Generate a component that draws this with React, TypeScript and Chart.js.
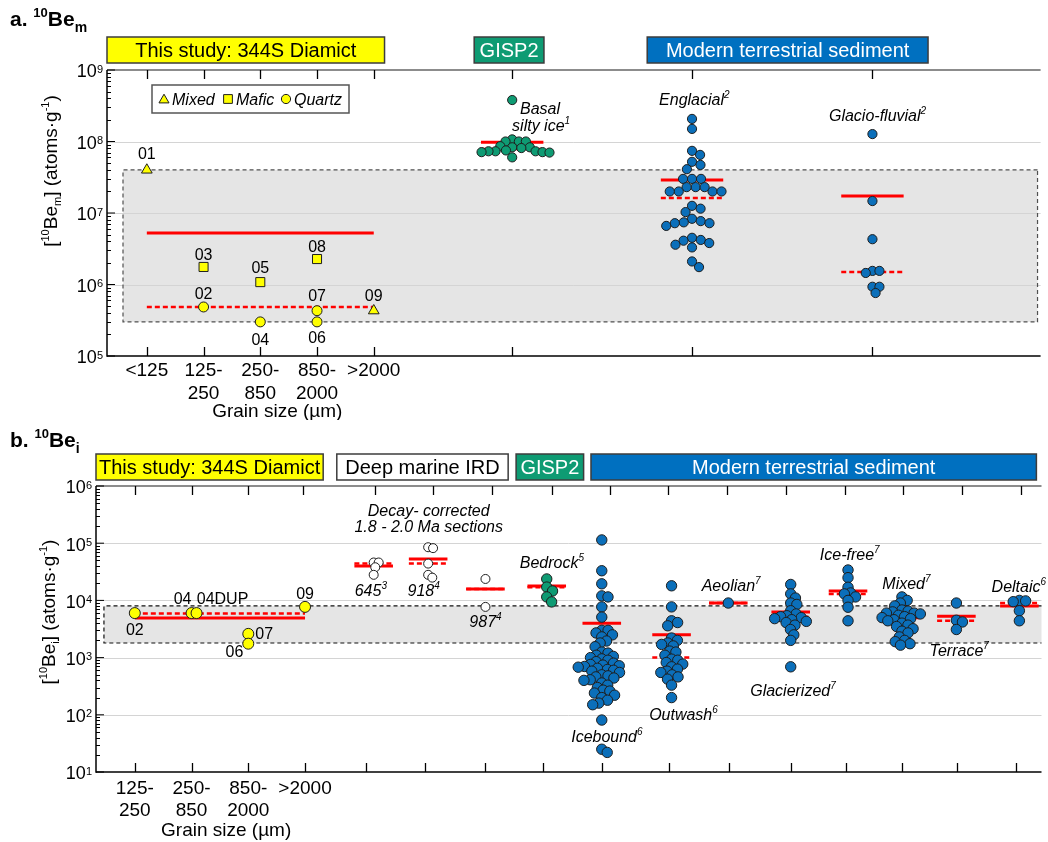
import React, { useEffect, useRef } from 'react';
import { Chart, registerables } from 'chart.js';

Chart.register(...registerables);

const FONT = '"Liberation Sans", Arial, Helvetica, sans-serif';
const RED = '#ff0000';
const YELLOW = '#ffff00';
const GREEN = '#0e9b73';
const BLUE = '#0b6fba';
const BOX_BLUE = '#0070c0';
const BAND_FILL = '#e5e5e5';
const GRID = '#d4d4d4';
const EDGE = '#1e1e1e';

// ================= Panel a : 10Be_m =================
const A_GRAIN_LABELS = [['<125'], ['125-', '250'], ['250-', '850'], ['850-', '2000'], ['>2000']];
const A_GRAIN_SLOTS = [1, 2, 3, 4, 5];
const A_STUDY_IDS = ['01', '02', '03', '04', '05', '06', '07', '08', '09'];
const A_STUDY_MINERAL = ['Mixed', 'Quartz', 'Mafic', 'Quartz', 'Mafic', 'Quartz', 'Quartz', 'Mafic', 'Mixed'];
const A_STUDY_GRAIN = [0, 1, 1, 2, 2, 3, 3, 3, 4];
const A_STUDY_VALUES = [4.0e7, 4.85e5, 1.76e6, 3.0e5, 1.08e6, 3.0e5, 4.3e5, 2.27e6, 4.3e5];
const A_STUDY_MEAN = 5.25e6;
const A_STUDY_MEDIAN = 4.85e5;

const A_GROUP_SLOTS = [7.44, 10.61, 13.79];
const A_GISP2_BASAL = [3.8e8, 1.07e8, 1.0e8, 1.0e8, 1.0e8, 8.6e7, 8.3e7, 8.3e7, 8.1e7, 7.5e7, 7.3e7, 7.3e7, 7.3e7, 7.1e7, 7.1e7, 7.0e7, 6.0e7];
const A_ENGLACIAL = [2.07e8, 1.5e8, 7.4e7, 6.5e7, 5.2e7, 4.7e7, 4.1e7, 3.0e7, 3.0e7, 3.0e7, 2.3e7, 2.3e7, 2.3e7, 2.0e7, 2.0e7, 2.0e7, 2.0e7, 1.26e7, 1.15e7, 1.03e7, 8.3e6, 7.7e6, 7.4e6, 7.2e6, 7.2e6, 6.6e6, 4.5e6, 4.2e6, 4.1e6, 3.8e6, 3.6e6, 3.3e6, 2.1e6, 1.75e6];
const A_GLACIOFLUVIAL = [1.27e8, 1.47e7, 4.3e6, 1.55e6, 1.55e6, 1.45e6, 9.3e5, 9.3e5, 7.6e5];
const A_GROUP_MEANS = [9.8e7, 2.9e7, 1.73e7];
const A_GROUP_MEDIANS = [7.85e7, 1.62e7, 1.5e6];
const A_TICK_SLOTS = [1, 2, 3, 4, 5, 7.44, 10.61, 13.79];
const A_Y_DECADES = [5, 6, 7, 8, 9];
const A_REFERENCE_BAND = [3.0e5, 4.0e7];

// ================= Panel b : 10Be_i =================
const B_GRAIN_LABELS = [['125-', '250'], ['250-', '850'], ['850-', '2000'], ['>2000']];
const B_GRAIN_SLOTS = [1, 2, 3, 4];
const B_STUDY_IDS = ['02', '04', '04DUP', '07', '06', '09'];
const B_STUDY_GRAIN = [0, 1, 1, 2, 2, 3];
const B_STUDY_VALUES = [6.0e3, 6.0e3, 6.0e3, 2.6e3, 1.75e3, 7.7e3];
const B_STUDY_MEAN = 4.9e3;
const B_STUDY_MEDIAN = 5.9e3;

const B_GROUP_NAMES = ['645', '918', '987', 'Bedrock', 'Icebound', 'Outwash', 'Aeolian', 'Glacierized', 'Ice-free', 'Mixed', 'Terrace', 'Deltaic'];
const B_GROUP_REFS = ['3', '4', '4', '5', '6', '6', '7', '7', '7', '7', '7', '6'];
const B_GROUP_SOURCE = ['IRD', 'IRD', 'IRD', 'GISP2', 'Modern', 'Modern', 'Modern', 'Modern', 'Modern', 'Modern', 'Modern', 'Modern'];
const B_GROUP_SLOTS = [5.21, 6.17, 7.18, 8.26, 9.23, 10.46, 11.46, 12.56, 13.57, 14.52, 15.48, 16.59];
const B_SITE_645 = [4.6e4, 4.6e4, 3.8e4, 2.8e4];
const B_SITE_918 = [8.5e4, 8.2e4, 4.4e4, 2.8e4, 2.5e4];
const B_SITE_987 = [2.37e4, 7.7e3];
const B_BEDROCK = [2.37e4, 1.71e4, 1.46e4, 1.15e4, 9.4e3];
const B_ICEBOUND = [1.14e5, 3.3e4, 1.95e4, 1.2e4, 1.15e4, 7.7e3, 5.1e3, 3.0e3, 3.0e3, 2.7e3, 2.5e3, 2.3e3, 1.95e3, 1.8e3, 1.55e3, 1.25e3, 1.2e3, 1.1e3, 1.05e3, 1.0e3, 950, 900, 850, 800, 760, 740, 720, 700, 680, 650, 620, 600, 580, 550, 500, 480, 460, 440, 410, 400, 360, 330, 300, 270, 260, 240, 220, 200, 180, 160, 150, 81, 25, 22];
const B_OUTWASH = [1.8e4, 7.7e3, 4.4e3, 4.1e3, 3.6e3, 2.2e3, 2.0e3, 1.8e3, 1.7e3, 1.6e3, 1.3e3, 1.25e3, 1.1e3, 940, 900, 820, 770, 690, 630, 580, 550, 500, 460, 420, 330, 200];
const B_AEOLIAN = [9.0e3];
const B_GLACIERIZED = [1.9e4, 1.3e4, 1.1e4, 9.0e3, 8.5e3, 6.6e3, 5.8e3, 5.4e3, 5.2e3, 5.0e3, 4.8e3, 4.6e3, 4.3e3, 4.1e3, 3.7e3, 3.1e3, 2.5e3, 2.0e3, 690];
const B_ICE_FREE = [3.4e4, 2.5e4, 1.7e4, 1.35e4, 1.3e4, 1.15e4, 1.0e4, 7.6e3, 4.4e3];
const B_MIXED = [1.15e4, 1.0e4, 9.0e3, 8.0e3, 6.8e3, 6.5e3, 6.3e3, 6.0e3, 6.0e3, 5.8e3, 5.5e3, 5.2e3, 5.0e3, 4.8e3, 4.6e3, 4.4e3, 4.0e3, 3.7e3, 3.5e3, 3.2e3, 2.9e3, 2.7e3, 2.3e3, 2.0e3, 1.9e3, 1.75e3, 1.65e3];
const B_TERRACE = [9.0e3, 4.5e3, 4.2e3, 3.1e3];
const B_DELTAIC = [1.0e4, 9.8e3, 9.5e3, 6.6e3, 4.4e3];
const B_GROUP_VALUES = [B_SITE_645, B_SITE_918, B_SITE_987, B_BEDROCK, B_ICEBOUND, B_OUTWASH, B_AEOLIAN, B_GLACIERIZED, B_ICE_FREE, B_MIXED, B_TERRACE, B_DELTAIC];
const B_GROUP_MEANS = [4.0e4, 5.3e4, 1.58e4, 1.79e4, 4.0e3, 2.5e3, 9.0e3, 6.3e3, 1.46e4, 5.0e3, 5.3e3, 8.0e3];
const B_GROUP_MEDIANS = [4.4e4, 4.4e4, 1.58e4, 1.7e4, 710, 1.0e3, 9.0e3, 5.2e3, 1.3e4, 4.9e3, 4.4e3, 9.0e3];
const B_TOP_TICK_SLOTS = [1, 2, 3, 3.96, 5.23, 6.26, 7.3, 8.35, 9.37, 10.4, 11.44, 12.47, 13.51, 14.54, 15.58, 16.61];
const B_BOTTOM_TICK_SLOTS = [1, 2, 3, 4, 5.07, 6.11, 7.18, 8.19, 9.23, 10.42, 11.47, 12.56, 13.54, 14.53, 15.49, 16.53];
const B_Y_DECADES = [1, 2, 3, 4, 5, 6];
const B_REFERENCE_BAND = [1.8e3, 8.0e3];

// ================= layout (positions of annotations) =================
const A_ID_OFFSETS = [
  { dx: 0, dy: -17, align: 'center' }, { dx: 0, dy: -14, align: 'center' }, { dx: 0, dy: -13, align: 'center' },
  { dx: 0, dy: 17, align: 'center' }, { dx: 0, dy: -15, align: 'center' }, { dx: 0, dy: 15, align: 'center' },
  { dx: 0, dy: -16, align: 'center' }, { dx: 0, dy: -13, align: 'center' }, { dx: 0, dy: -16, align: 'center' },
];
const B_ID_OFFSETS = [
  { dx: 0, dy: 16, align: 'center' }, { dx: -9, dy: -15, align: 'center' }, { dx: 26, dy: -15, align: 'center' },
  { dx: 7, dy: -1, align: 'left' }, { dx: -5, dy: 8, align: 'right' }, { dx: 0, dy: -14, align: 'center' },
];
const A_SWARM_SPACING = [7, 9, 7];
const A_LABEL_ANCHORS = [
  { x: 7.93, v: 2.94e8, name: 'Basal', sup: '' },
  { x: 7.95, v: 1.7e8, name: 'silty ice', sup: '1' },
  { x: 10.65, v: 3.93e8, name: 'Englacial', sup: '2' },
  { x: 13.88, v: 2.35e8, name: 'Glacio-fluvial', sup: '2' },
];
const B_LABEL_ANCHORS = [
  [5.16, 1.52e4], [6.09, 1.5e4], [7.18, 4.4e3], [8.35, 4.7e4], [9.32, 43], [10.67, 103],
  [11.51, 1.86e4], [12.6, 270], [13.6, 6.5e4], [14.6, 2.0e4], [15.53, 1.36e3], [16.58, 1.79e4],
];

type Seg = { t: string; s: number; it?: boolean; b?: boolean; dy?: number };

function fontOf(g: Seg) {
  return `${g.it ? 'italic ' : ''}${g.b ? 'bold ' : ''}${g.s}px ${FONT}`;
}

function drawRich(ctx: CanvasRenderingContext2D, segs: Seg[], x: number, baseline: number, align: string, color = '#000') {
  let w = 0;
  for (const g of segs) { ctx.font = fontOf(g); w += ctx.measureText(g.t).width; }
  let cx = align === 'center' ? x - w / 2 : align === 'right' ? x - w : x;
  ctx.fillStyle = color;
  ctx.textAlign = 'left';
  ctx.textBaseline = 'alphabetic';
  for (const g of segs) {
    ctx.font = fontOf(g);
    ctx.fillText(g.t, cx, baseline + (g.dy || 0));
    cx += ctx.measureText(g.t).width;
  }
}

function supLabel(name: string, sup: string, size = 16): Seg[] {
  const out: Seg[] = [{ t: name, s: size, it: true }];
  if (sup) out.push({ t: sup, s: 10, it: true, dy: -7 });
  return out;
}

function drawMarker(ctx: CanvasRenderingContext2D, style: string, x: number, y: number, r: number, fill: string) {
  ctx.beginPath();
  if (style === 'circle') ctx.arc(x, y, r, 0, Math.PI * 2);
  else if (style === 'rect') { const s = r * Math.SQRT1_2; ctx.rect(x - s, y - s, 2 * s, 2 * s); }
  else {
    for (let k = 0; k < 3; k++) {
      const a = (k * 2 * Math.PI) / 3;
      const px = x + Math.sin(a) * r, py = y - Math.cos(a) * r;
      if (k === 0) ctx.moveTo(px, py); else ctx.lineTo(px, py);
    }
    ctx.closePath();
  }
  ctx.fillStyle = fill; ctx.fill();
  ctx.strokeStyle = EDGE; ctx.lineWidth = 1; ctx.stroke();
}

function swarmOffsets(pys: number[], D: number): number[] {
  const placed: { x: number; y: number }[] = [];
  const out: number[] = [];
  for (const py of pys) {
    const iv: [number, number][] = [];
    for (const p of placed) {
      const dy = Math.abs(py - p.y);
      if (dy < D) { const h = Math.sqrt(D * D - dy * dy); iv.push([p.x - h, p.x + h]); }
    }
    const cands = [0];
    for (const [a, b] of iv) cands.push(a, b);
    cands.sort((m, n) => Math.abs(m) - Math.abs(n) || n - m);
    let best = 0;
    for (const c of cands) {
      if (iv.every(([a, b]) => c <= a + 1e-6 || c >= b - 1e-6)) { best = c; break; }
    }
    placed.push({ x: best, y: py });
    out.push(best);
  }
  return out;
}

function pointDs(data: any[], style: string, radius: number, fill: string) {
  return {
    data, showLine: false, pointStyle: style, pointRadius: radius, pointHoverRadius: radius,
    pointBackgroundColor: fill, pointBorderColor: EDGE, pointBorderWidth: 1,
    backgroundColor: fill, borderColor: EDGE, order: 0,
  };
}

function hLineDs(x0: number, x1: number, v: number, dashed: boolean) {
  return {
    data: [{ x: x0, y: v }, { x: x1, y: v }], showLine: true, borderColor: RED,
    borderWidth: dashed ? 2.5 : 3, borderDash: dashed ? [5, 3] : [], pointRadius: 0,
    pointHoverRadius: 0, fill: false, order: dashed ? 1 : 2,
  };
}

function buildA() {
  const datasets: any[] = [];
  const swarms: any[] = [];
  const ids: any[] = [];
  const minerals: [string, string, number][] = [['Mixed', 'triangle', 6.2], ['Mafic', 'rect', 6.4], ['Quartz', 'circle', 5]];
  for (const [m, st, r] of minerals) {
    const idx = A_STUDY_IDS.map((_, i) => i).filter((i) => A_STUDY_MINERAL[i] === m);
    const dsi = datasets.length;
    datasets.push(pointDs(idx.map((i) => ({ x: A_GRAIN_SLOTS[A_STUDY_GRAIN[i]], y: A_STUDY_VALUES[i] })), st, r, YELLOW));
    idx.forEach((i, k) => ids.push({ ds: dsi, pt: k, id: A_STUDY_IDS[i], ...A_ID_OFFSETS[i] }));
  }
  const groups: [number[], string][] = [[A_GISP2_BASAL, GREEN], [A_ENGLACIAL, BLUE], [A_GLACIOFLUVIAL, BLUE]];
  groups.forEach(([vals, col], g) => {
    swarms.push({ ds: datasets.length, center: A_GROUP_SLOTS[g], values: vals, dist: A_SWARM_SPACING[g] });
    datasets.push(pointDs(vals.map((v) => ({ x: A_GROUP_SLOTS[g], y: v })), 'circle', 4.6, col));
  });
  datasets.push(hLineDs(A_GRAIN_SLOTS[0], A_GRAIN_SLOTS[4], A_STUDY_MEAN, false));
  datasets.push(hLineDs(A_GRAIN_SLOTS[0], A_GRAIN_SLOTS[4], A_STUDY_MEDIAN, true));
  A_GROUP_SLOTS.forEach((c, g) => {
    datasets.push(hLineDs(c - 0.55, c + 0.55, A_GROUP_MEANS[g], false));
    datasets.push(hLineDs(c - 0.55, c + 0.55, A_GROUP_MEDIANS[g], true));
  });
  return { datasets, swarms, ids };
}

function buildB() {
  const datasets: any[] = [];
  const swarms: any[] = [];
  const ids: any[] = [];
  B_GRAIN_SLOTS.forEach((slot, gi) => {
    const idx = B_STUDY_IDS.map((_, i) => i).filter((i) => B_STUDY_GRAIN[i] === gi);
    const dsi = datasets.length;
    const vals = idx.map((i) => B_STUDY_VALUES[i]);
    swarms.push({ ds: dsi, center: slot, values: vals, dist: 5 });
    datasets.push(pointDs(vals.map((v) => ({ x: slot, y: v })), 'circle', 5.5, YELLOW));
    idx.forEach((i, k) => ids.push({ ds: dsi, pt: k, id: B_STUDY_IDS[i], ...B_ID_OFFSETS[i] }));
  });
  B_GROUP_VALUES.forEach((vals, g) => {
    const src = B_GROUP_SOURCE[g];
    const fill = src === 'IRD' ? '#ffffff' : src === 'GISP2' ? GREEN : BLUE;
    const r = src === 'IRD' ? 4.5 : 5.2;
    const dist = src === 'IRD' ? 5 : src === 'GISP2' ? 7 : 6.3;
    swarms.push({ ds: datasets.length, center: B_GROUP_SLOTS[g], values: vals, dist });
    datasets.push(pointDs(vals.map((v) => ({ x: B_GROUP_SLOTS[g], y: v })), 'circle', r, fill));
  });
  datasets.push(hLineDs(B_GRAIN_SLOTS[0], B_GRAIN_SLOTS[3], B_STUDY_MEAN, false));
  datasets.push(hLineDs(B_GRAIN_SLOTS[0], B_GRAIN_SLOTS[3], B_STUDY_MEDIAN, true));
  B_GROUP_SLOTS.forEach((c, g) => {
    datasets.push(hLineDs(c - 0.34, c + 0.34, B_GROUP_MEANS[g], false));
    datasets.push(hLineDs(c - 0.34, c + 0.34, B_GROUP_MEDIANS[g], true));
  });
  return { datasets, swarms, ids };
}

const SPEC_A = {
  height: 420,
  padding: { left: 107, right: 3, top: 70, bottom: 64 },
  xRange: [0.298, 16.754],
  yRange: [1e5, 1e9],
  decades: A_Y_DECADES,
  band: A_REFERENCE_BAND,
  bandX: [0.58, 16.7],
  bandRight: true,
  bandStroke: '#505050',
  topTicks: A_TICK_SLOTS,
  bottomTicks: A_TICK_SLOTS,
  title: [{ t: 'a. ', s: 21, b: true }, { t: '10', s: 13, b: true, dy: -9 }, { t: 'Be', s: 21, b: true }, { t: 'm', s: 14, b: true, dy: 6 }] as Seg[],
  titleBaseline: 26,
  headerTop: 37,
  headers: [
    { x0: 0.298, x1: 5.19, text: 'This study: 344S Diamict', fill: YELLOW, color: '#000' },
    { x0: 6.77, x1: 8.0, text: 'GISP2', fill: GREEN, color: '#fff' },
    { x0: 9.82, x1: 14.77, text: 'Modern terrestrial sediment', fill: BOX_BLUE, color: '#fff' },
  ],
  yTitle: [{ t: '[', s: 19 }, { t: '10', s: 11, dy: -8 }, { t: 'Be', s: 19 }, { t: 'm', s: 11, dy: 4 }, { t: '] (atoms·g', s: 19 }, { t: '-1', s: 11, dy: -8 }, { t: ')', s: 19 }] as Seg[],
  yTitleX: 50,
  yTitleY: 171,
  grainLabels: A_GRAIN_LABELS,
  grainSlots: A_GRAIN_SLOTS,
  grainLineDy: [13, 36],
  grainTitleDy: 54,
  grainTitleSlot: 3.3,
  texts: A_LABEL_ANCHORS.map((l) => ({ x: l.x, v: l.v, segs: supLabel(l.name, l.sup) })),
  legend: true,
};

const SPEC_B = {
  height: 422,
  padding: { left: 96, right: 2, top: 66, bottom: 70 },
  xRange: [0.316, 16.98],
  yRange: [1e1, 1e6],
  decades: B_Y_DECADES,
  band: B_REFERENCE_BAND,
  bandX: [0.456, 17.5],
  bandRight: false,
  bandStroke: '#111111',
  topTicks: B_TOP_TICK_SLOTS,
  bottomTicks: B_BOTTOM_TICK_SLOTS,
  title: [{ t: 'b. ', s: 21, b: true }, { t: '10', s: 13, b: true, dy: -9 }, { t: 'Be', s: 21, b: true }, { t: 'i', s: 14, b: true, dy: 6 }] as Seg[],
  titleBaseline: 27,
  headerTop: 34,
  headers: [
    { x0: 0.316, x1: 4.32, text: 'This study: 344S Diamict', fill: YELLOW, color: '#000' },
    { x0: 4.56, x1: 7.58, text: 'Deep marine IRD', fill: '#ffffff', color: '#000' },
    { x0: 7.72, x1: 8.91, text: 'GISP2', fill: GREEN, color: '#fff' },
    { x0: 9.04, x1: 16.89, text: 'Modern terrestrial sediment', fill: BOX_BLUE, color: '#fff' },
  ],
  yTitle: [{ t: '[', s: 19 }, { t: '10', s: 11, dy: -8 }, { t: 'Be', s: 19 }, { t: 'i', s: 11, dy: 4 }, { t: '] (atoms·g', s: 19 }, { t: '-1', s: 11, dy: -8 }, { t: ')', s: 19 }] as Seg[],
  yTitleX: 48,
  yTitleY: 192,
  grainLabels: B_GRAIN_LABELS,
  grainSlots: B_GRAIN_SLOTS,
  grainLineDy: [15, 37],
  grainTitleDy: 57,
  grainTitleSlot: 2.61,
  texts: [
    { x: 6.18, v: 3.8e5, segs: [{ t: 'Decay- corrected', s: 16, it: true }] as Seg[] },
    { x: 6.18, v: 2.0e5, segs: [{ t: '1.8 - 2.0 Ma sections', s: 16, it: true }] as Seg[] },
    ...B_LABEL_ANCHORS.map(([x, v], g) => ({ x, v, segs: supLabel(B_GROUP_NAMES[g], B_GROUP_REFS[g]) })),
  ],
  legend: false,
};

function makeDecor(S: any, ids: any[]) {
  const line = (ctx: CanvasRenderingContext2D, x0: number, y0: number, x1: number, y1: number) => {
    ctx.beginPath(); ctx.moveTo(x0, y0); ctx.lineTo(x1, y1); ctx.stroke();
  };
  return {
    id: 'decor',
    beforeDatasetsDraw(chart: any) {
      const ctx = chart.ctx, ca = chart.chartArea, xs = chart.scales.x, ys = chart.scales.y;
      ctx.save();
      const bx0 = xs.getPixelForValue(S.bandX[0]);
      const bx1 = Math.min(xs.getPixelForValue(S.bandX[1]), ca.right);
      const bt = ys.getPixelForValue(S.band[1]);
      const bb = ys.getPixelForValue(S.band[0]);
      ctx.fillStyle = BAND_FILL;
      ctx.fillRect(bx0, bt, bx1 - bx0, bb - bt);
      ctx.strokeStyle = GRID; ctx.lineWidth = 1;
      for (const d of S.decades.slice(1, -1)) {
        const py = Math.round(ys.getPixelForValue(10 ** d)) + 0.5;
        line(ctx, ca.left, py, ca.right, py);
      }
      ctx.setLineDash([4, 3]); ctx.strokeStyle = S.bandStroke; ctx.lineWidth = 1.2;
      ctx.beginPath();
      ctx.moveTo(bx1, bt); ctx.lineTo(bx0, bt); ctx.lineTo(bx0, bb); ctx.lineTo(bx1, bb);
      if (S.bandRight) ctx.lineTo(bx1, bt);
      ctx.stroke(); ctx.setLineDash([]);
      ctx.restore();
    },
    afterDatasetsDraw(chart: any) {
      const ctx: CanvasRenderingContext2D = chart.ctx, ca = chart.chartArea, xs = chart.scales.x, ys = chart.scales.y;
      ctx.save();
      // axes
      ctx.strokeStyle = '#8c8c8c'; ctx.lineWidth = 2;
      line(ctx, ca.left, ca.top, ca.right, ca.top);
      ctx.strokeStyle = '#000'; ctx.lineWidth = 1.5;
      line(ctx, ca.left, ca.top, ca.left, ca.bottom + 0.75);
      line(ctx, ca.left, ca.bottom, ca.right, ca.bottom);
      // x ticks
      ctx.lineWidth = 1.3;
      for (const t of S.topTicks) { const px = Math.round(xs.getPixelForValue(t)) + 0.5; line(ctx, px, ca.top, px, ca.top + 9); }
      for (const t of S.bottomTicks) { const px = Math.round(xs.getPixelForValue(t)) + 0.5; line(ctx, px, ca.bottom, px, ca.bottom - 9); }
      // y ticks + labels
      ctx.lineWidth = 1;
      S.decades.forEach((d: number, i: number) => {
        const py = ys.getPixelForValue(10 ** d);
        line(ctx, ca.left, py, ca.left + 8, py);
        if (i < S.decades.length - 1) {
          for (let k = 2; k <= 9; k++) { const pm = Math.round(ys.getPixelForValue(k * 10 ** d)) + 0.5; line(ctx, ca.left, pm, ca.left + 4, pm); }
        }
        ctx.fillStyle = '#000'; ctx.textAlign = 'right'; ctx.textBaseline = 'alphabetic';
        ctx.font = `11px ${FONT}`;
        const exp = String(d);
        const ew = ctx.measureText(exp).width;
        const er = ca.left - 4;
        ctx.fillText(exp, er, py + 1 - 6.4 + 7.9);
        ctx.font = `18px ${FONT}`;
        ctx.fillText('10', er - ew, py + 1 + 6.4);
      });
      // grain size labels
      ctx.fillStyle = '#000'; ctx.textAlign = 'center'; ctx.textBaseline = 'alphabetic';
      ctx.font = `19px ${FONT}`;
      S.grainSlots.forEach((s: number, i: number) => {
        const px = xs.getPixelForValue(s);
        S.grainLabels[i].forEach((ln: string, j: number) => ctx.fillText(ln, px, ca.bottom + S.grainLineDy[j] + 7));
      });
      ctx.fillText('Grain size (µm)', xs.getPixelForValue(S.grainTitleSlot), ca.bottom + S.grainTitleDy + 7);
      // y title
      ctx.save();
      ctx.translate(S.yTitleX, S.yTitleY);
      ctx.rotate(-Math.PI / 2);
      drawRich(ctx, S.yTitle, 0, 7, 'center');
      ctx.restore();
      // panel title
      drawRich(ctx, S.title, 10, S.titleBaseline, 'left');
      // header boxes
      for (const h of S.headers) {
        const x0 = xs.getPixelForValue(h.x0), x1 = xs.getPixelForValue(h.x1);
        ctx.fillStyle = h.fill;
        ctx.fillRect(x0, S.headerTop, x1 - x0, 26);
        ctx.strokeStyle = '#3c3c3c'; ctx.lineWidth = 1.5;
        ctx.strokeRect(x0, S.headerTop, x1 - x0, 26);
        drawRich(ctx, [{ t: h.text, s: 20 }], (x0 + x1) / 2, S.headerTop + 13 + 7, 'center', h.color);
      }
      // annotation texts
      for (const tx of S.texts) {
        const px = xs.getPixelForValue(tx.x), py = ys.getPixelForValue(tx.v);
        drawRich(ctx, tx.segs, px, py + 0.36 * tx.segs[0].s, 'center');
      }
      // sample ids
      for (const r of ids) {
        const el = chart.getDatasetMeta(r.ds).data[r.pt];
        if (!el) continue;
        drawRich(ctx, [{ t: r.id, s: 16 }], el.x + r.dx, el.y + r.dy + 5.8, r.align);
      }
      // legend
      if (S.legend) {
        const lx = ca.left + 45, ly = ca.top + 15;
        ctx.fillStyle = '#fff'; ctx.fillRect(lx, ly, 197, 28);
        ctx.strokeStyle = '#555'; ctx.lineWidth = 1.5; ctx.strokeRect(lx, ly, 197, 28);
        const cy = ly + 14;
        const items: [string, string, number, number][] = [['Mixed', 'triangle', 12, 5.8], ['Mafic', 'rect', 76, 6.2], ['Quartz', 'circle', 134, 4.6]];
        for (const [lab, st, ox, r] of items) {
          drawMarker(ctx, st, lx + ox, cy + (st === 'triangle' ? 1 : 0), r, YELLOW);
          drawRich(ctx, [{ t: lab, s: 16, it: true }], lx + ox + 8, cy + 5.8, 'left');
        }
      }
      ctx.restore();
    },
  };
}

function applySwarm(chart: any, swarms: any[]) {
  const xs = chart.scales.x, ys = chart.scales.y;
  const ppu = xs.getPixelForValue(1) - xs.getPixelForValue(0);
  for (const s of swarms) {
    const pys = s.values.map((v: number) => ys.getPixelForValue(v));
    const off = swarmOffsets(pys, s.dist);
    chart.data.datasets[s.ds].data = s.values.map((v: number, i: number) => ({ x: s.center + off[i] / ppu, y: v }));
  }
  chart.update();
}

function Panel({ spec, build }: { spec: any; build: () => any }) {
  const ref = useRef<HTMLCanvasElement>(null);
  useEffect(() => {
    const { datasets, swarms, ids } = build();
    const chart = new Chart(ref.current as HTMLCanvasElement, {
      type: 'scatter',
      data: { datasets },
      options: {
        responsive: false,
        animation: false,
        devicePixelRatio: 1,
        events: [],
        layout: { padding: spec.padding },
        plugins: { legend: { display: false }, tooltip: { enabled: false }, title: { display: false } },
        scales: {
          x: { type: 'linear', display: false, min: spec.xRange[0], max: spec.xRange[1] },
          y: { type: 'logarithmic', display: false, min: spec.yRange[0], max: spec.yRange[1] },
        },
      } as any,
      plugins: [makeDecor(spec, ids)],
    });
    applySwarm(chart, swarms);
    return () => chart.destroy();
  }, []);
  return <canvas ref={ref} width={1048} height={spec.height} style={{ display: 'block', width: 1048, height: spec.height }} />;
}

export default function App() {
  return (
    <div style={{ position: 'absolute', left: 0, top: 0, width: 1048, height: 842, background: '#fff', overflow: 'hidden' }}>
      <Panel spec={SPEC_A} build={buildA} />
      <Panel spec={SPEC_B} build={buildB} />
    </div>
  );
}
